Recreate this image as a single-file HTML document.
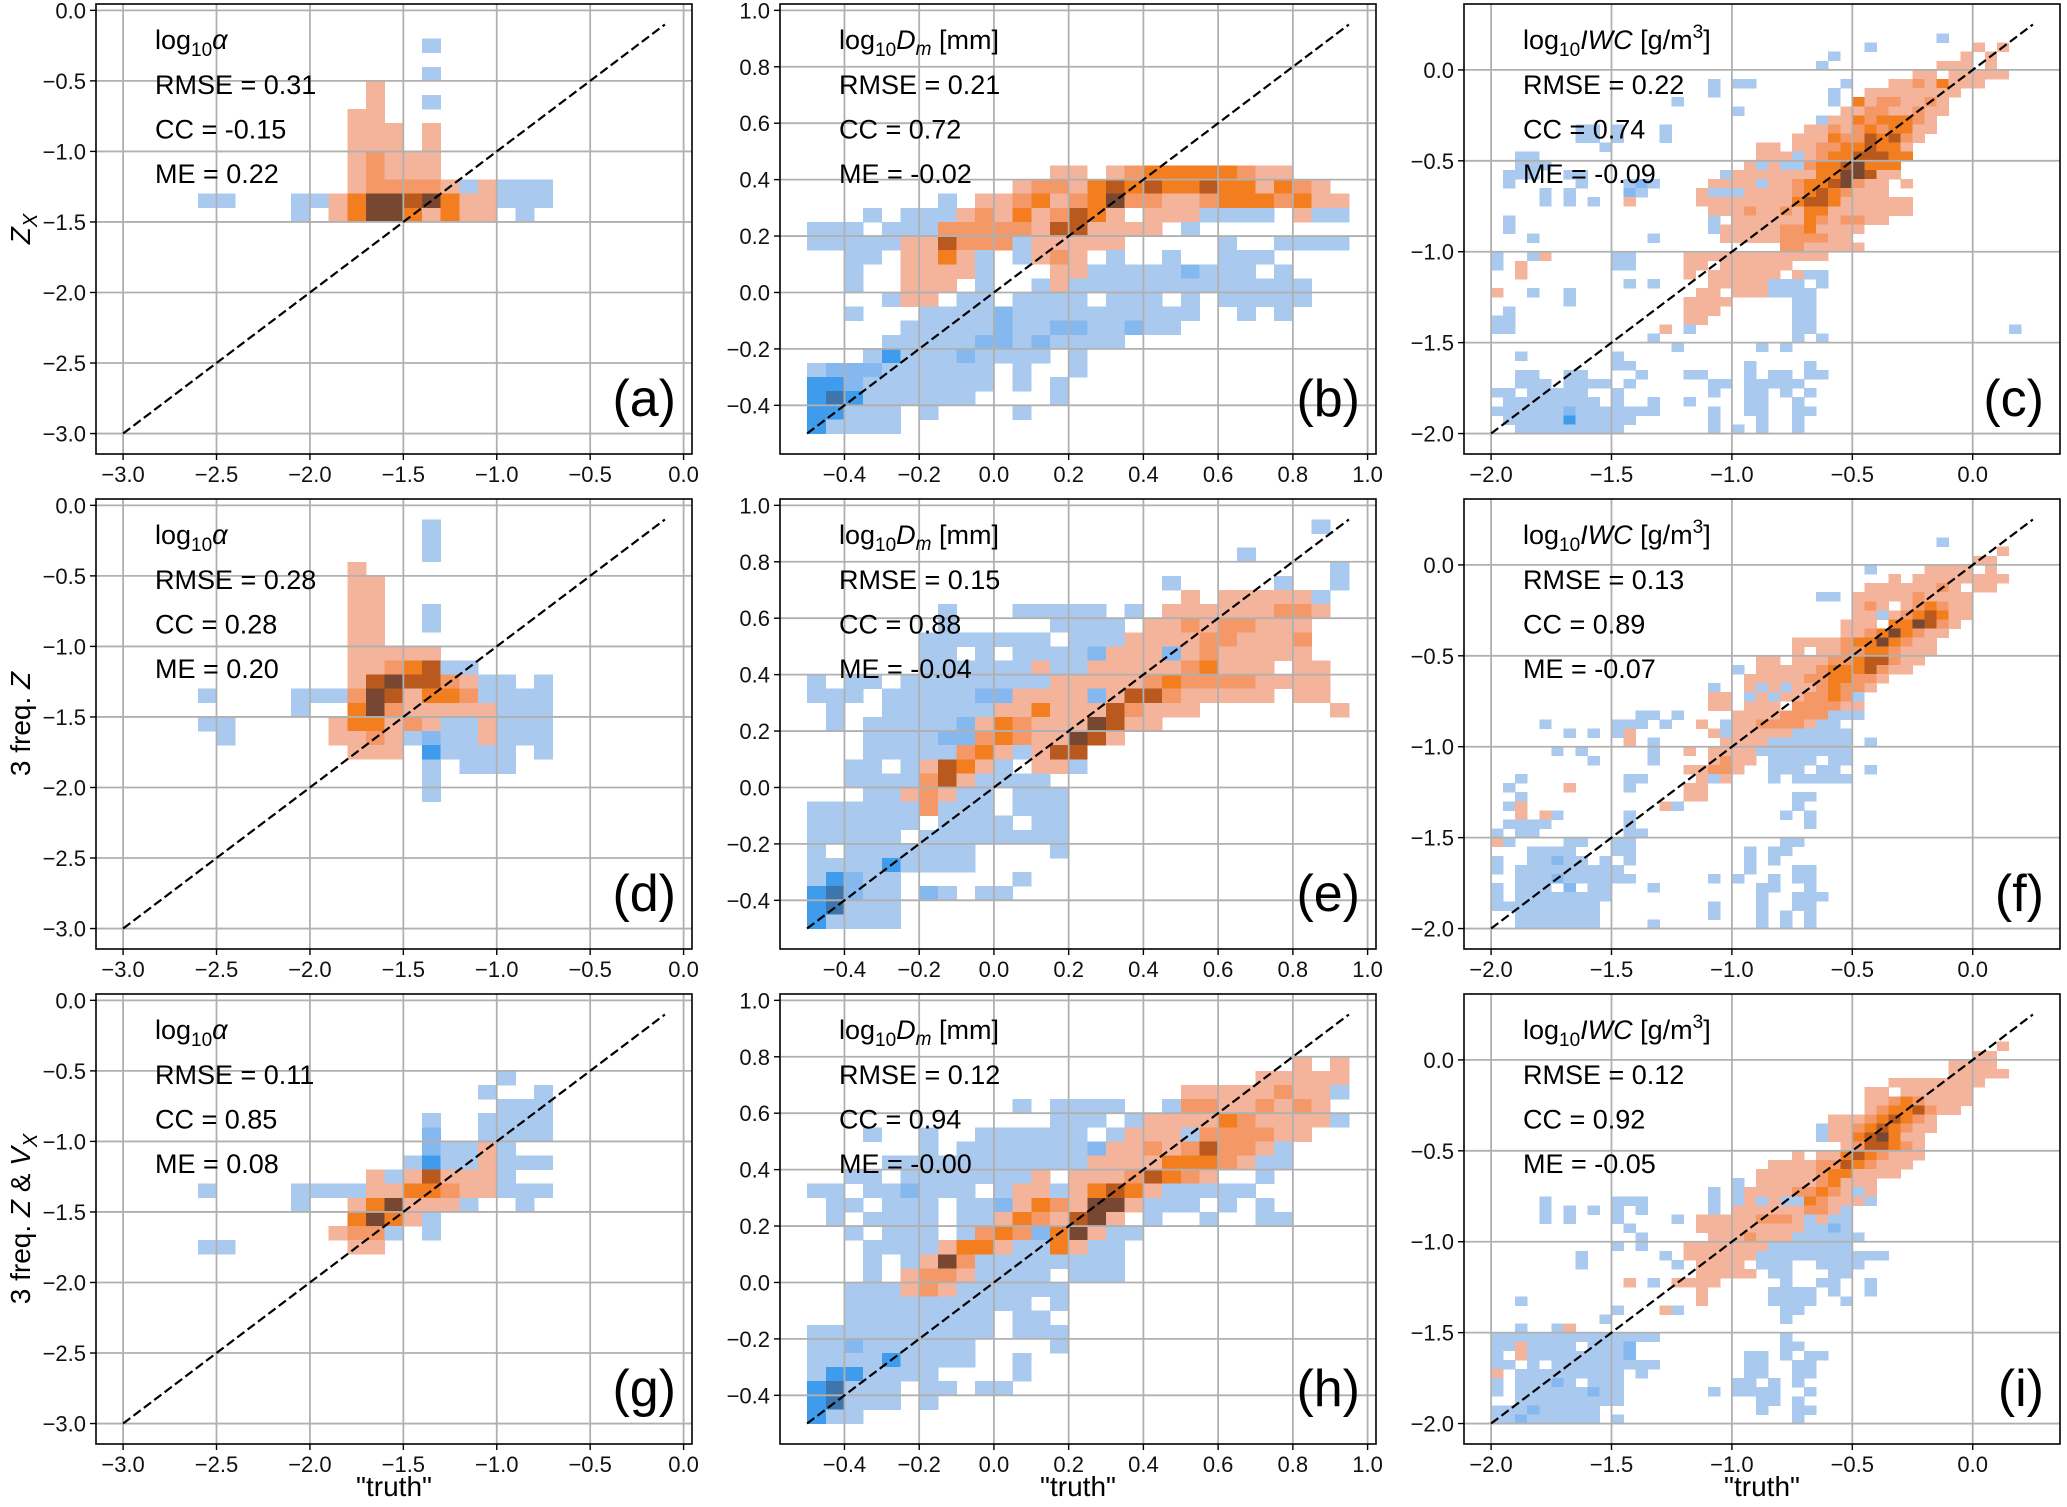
<!DOCTYPE html>
<html><head><meta charset="utf-8"><title>Retrieval scatter density panels</title>
<style>
html,body{margin:0;padding:0;background:#fff;}
svg{display:block;font-family:"Liberation Sans","DejaVu Sans",sans-serif;}
</style></head>
<body>
<svg id="fig" width="2067" height="1507" viewBox="0 0 2067 1507" xmlns="http://www.w3.org/2000/svg"></svg>
<script>
const NS="http://www.w3.org/2000/svg";
// tick labels per column
const ticksC1=[-3.0,-2.5,-2.0,-1.5,-1.0,-0.5,0.0];
const ticksC2=[-0.4,-0.2,0.0,0.2,0.4,0.6,0.8,1.0];
const ticksC3=[-2.0,-1.5,-1.0,-0.5,0.0];
// stats per panel (RMSE, CC, ME)
const statsA=["0.31","-0.15","0.22"];
const statsB=["0.21","0.72","-0.02"];
const statsC=["0.22","0.74","-0.09"];
const statsD=["0.28","0.28","0.20"];
const statsE=["0.15","0.88","-0.04"];
const statsF=["0.13","0.89","-0.07"];
const statsG=["0.11","0.85","0.08"];
const statsH=["0.12","0.94","-0.00"];
const statsI=["0.12","0.92","-0.05"];
// histogram cells: [rowFromTop, firstColumn, levels] ; letters = blue density, digits = orange density
const cellsA=[[2,16,"a"],[4,16,"a"],[5,13,"1"],[6,13,"1..a"],[7,12,"11"],[8,12,"111.1"],[9,12,"111.1"],[10,12,"12111"],[11,12,"12111"],[12,12,"122221a1aaa"],[13,4,"aa...aa135545311aaa"],[14,9,"a.135531311.a"]];
const cellsD=[[1,16,"a"],[2,16,"a"],[3,16,"a"],[4,12,"1"],[5,12,"11"],[6,12,"11"],[7,12,"11..a"],[8,12,"11..a"],[9,12,"11"],[10,12,"11111"],[11,12,"11234aa"],[12,12,"1454421aa.a"],[13,4,"a....aaa2541332aaaa"],[14,9,"a..35211111aaa"],[15,4,"aa.....133121aa1aaa"],[16,5,"a.....1121abaa1aaa"],[17,12,"111.caaaa.a"],[18,16,"a.aaa"],[19,16,"a"],[20,16,"a"]];
const cellsG=[[5,20,"a"],[6,19,"a..a"],[7,20,"aaa"],[8,16,"a..aaaa"],[9,16,"b..aaaa"],[10,16,"baa1a"],[11,15,"acaa1aaa"],[12,13,"1a14111a"],[13,4,"a....aaaa1133211aaa"],[14,9,"a..135111a..a"],[15,12,"3531a"],[16,11,"122a.a"],[17,4,"aa......11"]];
const cellsB=[[10,13,"11.1233333211"],[11,11,"12213434334331321"],[12,7,"a.11231235221123332311"],[13,3,"a.aaa121312431.111aaaa.1aa"],[14,0,"aaa.aaa222221441111.a"],[15,0,"aaaaa114222a11111.....a..aaaa"],[16,2,"aa.1131a.a121.a..a..aaa"],[17,2,"a..1111a...11aaaaabaaa.a"],[18,2,"a..111.a..a1aaaaaaaaaaaaa"],[19,4,"a11.aa.aaaa.aaa.a.aaaaa"],[20,2,"a...aaaabaaaaaaaaaa..a.a"],[21,5,"aaaaabaabbaabaa"],[22,4,"aaaaabbabaaaa"],[23,3,"acaaabaaaa.a"],[24,0,"abbbaaaaaa.a..a"],[25,0,"ccbaaaaaaa.a.a"],[26,0,"cdcaaaaaa....a"],[27,0,"ccaaa.a....a"],[28,0,"caaaa"]];
const cellsE=[[0,27,"a"],[2,23,"a"],[3,28,"a"],[4,19,"a.....a..a"],[5,20,"1.11111a"],[6,7,"a...aaaaa.a.111111221"],[7,7,"a.....aaaa.112122111"],[8,6,"aaaaaaa.aaa1111221112"],[9,6,"aa.a.aaaab111b1211111"],[10,6,"aaaaaa1aa1111123111.11"],[11,0,"a.aa.aaaaaaaa111112322221111"],[12,0,"aaa.aaaaabb1111b144211111.11"],[13,1,"a..aaaaaa11311142111.......1"],[14,1,"a.aaaaab1321115411"],[15,3,"aaaabb23211541"],[16,3,"aaaaa231a144"],[17,2,"aa.a1431a.11a"],[18,2,"aaaa241aaaa"],[19,3,"aa121aa.aaa"],[20,0,"aaaaaa2aaa.aaa"],[21,0,"aaaaaa.aaaa.aa"],[22,0,"aaaaa.aaaaaaaa"],[23,0,"a.aaaaaaa....a"],[24,0,"aaaacaaaa"],[25,0,"acbaa......a"],[26,0,"cdbaa.ba.aa"],[27,0,"cdaaa"],[28,0,"caaaa"]];
const cellsH=[[3,26,"1.1"],[4,24,"11111"],[5,20,"11111211a"],[6,11,"a.aaaa..a22112121"],[7,13,"aaa.a1111321111a"],[8,3,"a..a..aaaaaa.a111a222211"],[9,6,"a.aaaaaaab112124221a"],[10,4,"aaaaaaaaaaa111133321aa"],[11,2,"aa.aaaaaaa1.11124321..a"],[12,0,"aa.aabaaa.a11a13431aaaaa"],[13,1,"aa.aaa.aab1321551aaa.a.a"],[14,1,"a.aaaa.aa1321451.a..a..aa"],[15,2,"a.aaa.a232b351aa"],[16,3,"aaaa1331aa31aa"],[17,3,"a.a152aaaaaaaa"],[18,3,"a.1221aaaa.aaa"],[19,2,"aaa121aaaaaa"],[20,2,"aaaaaaaaaa.a"],[21,2,"aaaaaaaa.aa"],[22,0,"aaaaaaaaaa.aaa"],[23,0,"aabaaaaaa....a"],[24,0,"aaaacaaaa..a"],[25,0,"accaaaa....a"],[26,0,"cdaaa.aa.aa"],[27,0,"cdaaa.a"],[28,0,"caa"]];
const cellsC=[[1,37,"a"],[2,31,"a........1.1"],[3,28,"a..........1.1"],[4,27,"a.........111.1"],[5,35,"11.11111"],[6,18,"a.aa.......a...11213111"],[7,18,"a.........a..11111111"],[8,15,"a............a.31221121"],[9,20,"a........112211211"],[10,27,"a113233321"],[11,7,"aa.a...a...........11212323311"],[12,7,"aa.a...a..........11132243421"],[13,9,"a............11.1122334331"],[14,2,"aa..................111a123344433"],[15,2,"aaa................1a1aa23345333"],[16,1,"aaa..aa...........a11111113355411"],[17,1,"a.....a...aba....1111a1123345211.1"],[18,4,"a.a....ba....1aaa111123432111"],[19,4,"a.a.a..1.....111111113443111111"],[20,18,"11121121331111111"],[21,1,"a................a.1111113212211"],[22,1,"a................a111112231111"],[23,3,"a.........a.....11111222211"],[24,24,"2211111"],[25,0,"a..a1.....aa....111111111111"],[26,0,"a.1.......aa....11.111111"],[27,2,"1.............1.111111.1aa"],[28,11,"a.a....11111aaa.a"],[29,0,"1..a..a..........11.111aaaa"],[30,6,"a.........1111.....aa"],[31,1,"a..............111......aa"],[32,0,"aa..............11.......aa"],[33,0,"aa............1.a........aa................a"],[34,13,"a...........a.a"],[35,15,"a......a.a"],[36,2,"a.......a"],[37,10,"aa.........a....a"],[38,2,"aa..aa....a...aa...a.aa.aa"],[39,2,"aaa.aaaa.a......aa.aaaaa"],[40,0,"aa.aaaaa..a.......a..aa.a.a"],[41,1,"aaaaaaaa.a..a..a....aa..a"],[42,0,"aaaaaabaaaaaaa....a..aa..aa"],[43,1,"aaaaacaaaaa......a...a..a"],[44,2,"aaaaaaaaa.......a.a.a..a"]];
const cellsF=[[2,37,"a"],[3,42,"1"],[4,40,"11"],[5,31,"a....1111.1"],[6,33,"1.11111111"],[7,31,"11111121.11"],[8,27,"aa.1111121111"],[9,30,"121.123211"],[10,30,"11a1234311"],[11,29,"111.335421"],[12,29,"112353211"],[13,25,"111123353211"],[14,25,"1.1122332111"],[15,22,"11.11122344211"],[16,20,"a.1111123334211"],[17,21,"111112233221"],[18,18,"a..1a1a1123221"],[19,18,"11.a1a112232a"],[20,18,"11.111.222211"],[21,12,"aa.a....11112222aaa"],[22,4,"a.....aaa.a..1.a1122221aa"],[23,6,"a.a.a1......1a11111aaaaa"],[24,11,"1.a.....1111aaaaaaa.a"],[25,5,"a.a.....a..1.1111aaaaaaaa"],[26,8,"a....a....1211.aaaa.aa"],[27,16,"11221..aaa.aa..a"],[28,2,"a........aa....1a1...a.aaaaa"],[29,1,"a....1....a....11"],[30,2,"a.............11.......aa"],[31,1,"a1...........1a.........a"],[32,2,"1.1a.....a............a.a"],[33,1,"aaaa......a..............a"],[34,0,"a.aa.......aa"],[35,0,"1a....aa..aa............aa"],[36,3,"aaaa...aa.........a.aa"],[37,0,"a..aabaa.a.a.........a.a"],[38,0,"a.aaaaaaaaa..........a...aa"],[39,2,"aaabaaaaaa......a.a..a.aa"],[40,0,"a.aaa.b.aa...a........aa..a"],[41,0,"a.aaaaaaaa............a..aaa"],[42,0,"aaaaaaaaa.........a...a..aa"],[43,2,"aaaaaaa.........a...a.a.a"],[44,2,"aaaaaaa....a........a.a.a"]];
const cellsI=[[3,42,"1"],[4,40,"11"],[5,38,"1111"],[6,38,"11111"],[7,33,"11111111"],[8,31,"11.111111"],[9,31,"112321111"],[10,31,"12334211"],[11,28,"111234321"],[12,27,"a112343211"],[13,27,"a11345311"],[14,29,"1244321"],[15,25,"1.113432111"],[16,23,"111122432111"],[17,22,"111112331111"],[18,20,"a.1111123111"],[19,18,"a.a111122321a1"],[20,4,"a.....aaa.....a.a1a1aa32111a"],[21,4,"a.a.a.a.a.....a.111111221a"],[22,4,"a.a...a....a.111112221a1aa"],[23,11,"a.....111111111aaba"],[24,12,"a.....1112111aaaaaa"],[25,10,"a.a...1111111aaaaaaa"],[26,7,"a......a.111111aaaaaaaaaaa"],[27,7,"a.......a.1111.aaa..aaaa"],[28,17,"11111.aa...aa"],[29,11,"1.a.1111.....a..aa..a"],[30,17,"1.....aaaa.a..a"],[31,2,"a..............1.....aaaa..a"],[32,10,"a...1a........aa"],[33,9,"a..............a"],[34,2,"a..a1"],[35,0,"aaaaaaaaaaaaaa..........a"],[36,0,"aa1aaaa.aaab............aa"],[37,0,"a.1aaaaaaaab.........aa.a.aa"],[38,0,"aa.a.aaaaaaaaa.......aa..aa"],[39,0,"1.aaaaaaaaa.a........aa..aa"],[40,0,"a.aaaba.aaa.........aa.a.a"],[41,0,"a.aaaaaabaa.......a.aaaa..a"],[42,2,"aaaaaaaaa...........aa.a"],[43,0,"aaabaaaaa.............a..aa"],[44,0,"aabaaaaaa.a..............a"]];

const colorMap={'a':'#aac9ef','b':'#86b8f0','c':'#3f9cec','d':'#3d75ad','1':'#f4b49b','2':'#f49868','3':'#f27e1f','4':'#b9591d','5':'#774731'};
const W=596,H=450;
const colLeft=[96,780,1464];
const rowTop=[4,499,994];
const colCfg=[
 {lim:[-3.145,0.045],bin:0.1,x0:-3.0,yTop:0.0,ticks:ticksC1,diag:[-3.0,-0.1],title:"alpha"},
 {lim:[-0.5725,1.0225],bin:0.05,x0:-0.5,yTop:0.95,ticks:ticksC2,diag:[-0.5,0.95],title:"dm"},
 {lim:[-2.1125,0.3625],bin:0.05,x0:-2.0,yTop:0.25,ticks:ticksC3,diag:[-2.0,0.25],title:"iwc"}
];
const panels=[
 {r:0,c:0,cells:cellsA,stats:statsA,letter:"(a)"},
 {r:0,c:1,cells:cellsB,stats:statsB,letter:"(b)"},
 {r:0,c:2,cells:cellsC,stats:statsC,letter:"(c)"},
 {r:1,c:0,cells:cellsD,stats:statsD,letter:"(d)"},
 {r:1,c:1,cells:cellsE,stats:statsE,letter:"(e)"},
 {r:1,c:2,cells:cellsF,stats:statsF,letter:"(f)"},
 {r:2,c:0,cells:cellsG,stats:statsG,letter:"(g)"},
 {r:2,c:1,cells:cellsH,stats:statsH,letter:"(h)"},
 {r:2,c:2,cells:cellsI,stats:statsI,letter:"(i)"}
];
const fig=document.getElementById('fig');
function el(tag,attrs,parent){const e=document.createElementNS(NS,tag);for(const k in attrs)e.setAttribute(k,attrs[k]);(parent||fig).appendChild(e);return e;}
function fmt(v){const s=Math.abs(v).toFixed(1);return (v<-1e-9?'\u2212':'')+s;}

panels.forEach(p=>{
 const cfg=colCfg[p.c];const L=colLeft[p.c],T=rowTop[p.r];
 const sx=v=>L+(v-cfg.lim[0])/(cfg.lim[1]-cfg.lim[0])*W;
 const sy=v=>T+H-(v-cfg.lim[0])/(cfg.lim[1]-cfg.lim[0])*H;
 const g=el('g',{});
 
 
 const cg=el('g',{'shape-rendering':'crispEdges'},g);
 
 
 p.cells.forEach(([k,j0,s])=>{
  for(let i=0;i<s.length;i++){const ch=s[i];if(ch==='.')continue;
   const xv=cfg.x0+(j0+i)*cfg.bin;const yv=cfg.yTop-(k+1)*cfg.bin;
   const x1=sx(xv),x2=sx(xv+cfg.bin),y1=sy(yv+cfg.bin),y2=sy(yv);
   const r=el('rect',{x:x1.toFixed(2),y:y1.toFixed(2),width:(x2-x1+0.4).toFixed(2),height:(y2-y1+0.4).toFixed(2),fill:colorMap[ch]},cg);
   
   
  }
 });
 const gg=el('g',{stroke:'#b0b0b0','stroke-width':'1.8'},g);
 
 
 cfg.ticks.forEach(t=>{
  const gx=el('line',{x1:sx(t),x2:sx(t),y1:T,y2:T+H},gg);
  
  
  const gy=el('line',{x1:L,x2:L+W,y1:sy(t),y2:sy(t)},gg);
  
  
 });
 const d=el('line',{x1:sx(cfg.diag[0]),y1:sy(cfg.diag[0]),x2:sx(cfg.diag[1]),y2:sy(cfg.diag[1]),stroke:'#000','stroke-width':'2.2','stroke-dasharray':'9 4'},g);
 
 
 const sp=el('rect',{x:L,y:T,width:W,height:H,fill:'none',stroke:'#000','stroke-width':'1.6'},g);
 
 
 cfg.ticks.forEach(t=>{
  const tx=el('line',{x1:sx(t),x2:sx(t),y1:T+H,y2:T+H+6,stroke:'#000','stroke-width':'1.4'},g);
  
  
  const lx=el('text',{x:sx(t),y:T+H+28,'text-anchor':'middle','font-size':'22',fill:'#111'},g);
  lx.textContent=fmt(t);
  
  
  const ty=el('line',{x1:L-6,x2:L,y1:sy(t),y2:sy(t),stroke:'#000','stroke-width':'1.4'},g);
  
  
  const ly=el('text',{x:L-10,y:sy(t)+8,'text-anchor':'end','font-size':'22',fill:'#111'},g);
  ly.textContent=fmt(t);
  
  
 });
 const tt=el('text',{x:L+59,y:T+45,'font-size':'27',fill:'#000'},g);
 
 
 if(cfg.title==='alpha'){
  tt.innerHTML='log<tspan dy="7" font-size="19">10</tspan><tspan dy="-7" font-style="italic">\u03b1</tspan>';
 }else if(cfg.title==='dm'){
  tt.innerHTML='log<tspan dy="7" font-size="19">10</tspan><tspan dy="-7" font-style="italic">D</tspan><tspan dy="6" font-size="19" font-style="italic">m</tspan><tspan dy="-6"> [mm]</tspan>';
 }else{
  tt.innerHTML='log<tspan dy="7" font-size="19">10</tspan><tspan dy="-7" font-style="italic">IWC</tspan><tspan> [g/m</tspan><tspan dy="-11" font-size="19">3</tspan><tspan dy="11">]</tspan>';
 }
 const labels=["RMSE = ","CC = ","ME = "];
 p.stats.forEach((v,i)=>{
  const s=el('text',{x:L+59,y:T+90+i*44.5,'font-size':'27',fill:'#000'},g);
  s.textContent=labels[i]+v;
  
  
 });
 const pl=el('text',{x:L+W-16,y:T+H-38,'text-anchor':'end','font-size':'52',fill:'#000'},g);
 pl.textContent=p.letter;
 
 
});
const yTitles=['<tspan font-style="italic">Z</tspan><tspan dy="7" font-size="20" font-style="italic">X</tspan>','3 freq. <tspan font-style="italic">Z</tspan>','3 freq. <tspan font-style="italic">Z</tspan> &amp; <tspan font-style="italic">V</tspan><tspan dy="7" font-size="20" font-style="italic">X</tspan>'];
yTitles.forEach((h,i)=>{
 const cy=rowTop[i]+H/2;
 const t=el('text',{x:0,y:0,'text-anchor':'middle','font-size':'28',fill:'#000',transform:'translate(30,'+cy+') rotate(-90)'});
 t.innerHTML=h;
 
 
});
colLeft.forEach(L=>{
 const t=el('text',{x:L+W/2,y:1496,'text-anchor':'middle','font-size':'28',fill:'#000'});
 t.textContent='"truth"';
 
 
});
</script>
</body></html>
